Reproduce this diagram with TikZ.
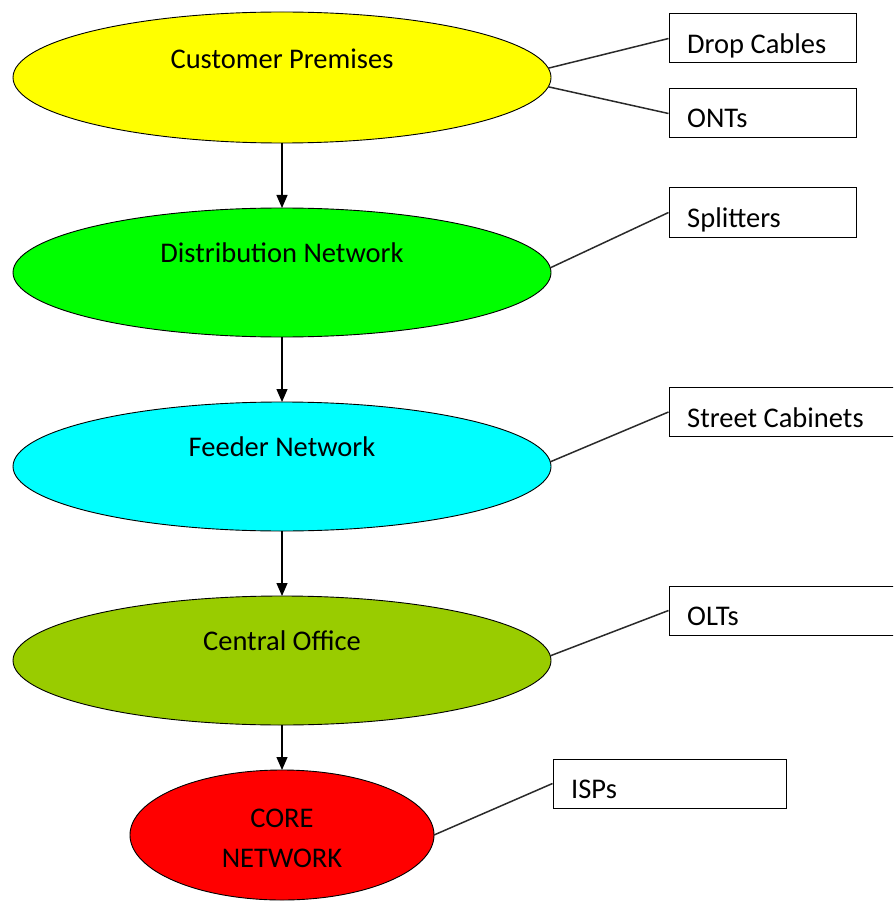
\documentclass[tikz,border=0pt]{standalone}
\usepackage{fontspec}
\setmainfont{Carlito}
\usetikzlibrary{arrows.meta,shapes.geometric}
\definecolor{cpyellow}{HTML}{FFFF00}
\definecolor{dngreen}{HTML}{00FF00}
\definecolor{fncyan}{HTML}{00FFFF}
\definecolor{coolive}{HTML}{99CC00}
\definecolor{cored}{HTML}{FF0000}
\definecolor{linkgray}{HTML}{2A2A2A}
\tikzset{
  ell/.style={ellipse, draw=black, line width=0.9pt, inner sep=0pt, outer sep=0pt, minimum width=538pt, minimum height=129pt},
  box/.style={rectangle, draw=black, line width=1pt, fill=white, inner sep=0pt, minimum height=49pt},
  txt/.style={font=\fontsize{28.5pt}{34pt}\selectfont, inner sep=0pt, anchor=base},
  btxt/.style={font=\fontsize{28.5pt}{34pt}\selectfont, inner sep=0pt, anchor=base west},
  flow/.style={line width=1.2pt, -{Triangle[length=13pt,width=11pt]}},
  link/.style={draw=linkgray, line width=1.5pt}
}
\begin{document}
\begin{tikzpicture}[x=1pt,y=-1pt]
\useasboundingbox (0,0) rectangle (893,901);
\clip (0,0) rectangle (893,901);
% ellipses
\node[ell, fill=cpyellow, minimum height=131pt] (cp) at (282,77.5) {};
\node[ell, fill=dngreen] (dn) at (282,272.5) {};
\node[ell, fill=fncyan] (fn) at (282,466.5) {};
\node[ell, fill=coolive] (co) at (282,660.5) {};
\node[ell, fill=cored, minimum width=304pt, minimum height=130pt] (cn) at (282,835) {};
% ellipse texts
\node[txt] (cpt) at (282,69) {Customer Premises};
\node[txt] (dnt) at (282,262) {Distribution Network};
\node[txt] (fnt) at (282,456) {Feeder Network};
\node[txt] (cot) at (282,650) {Central Office};
\node[txt] (cnt1) at (282,827) {CORE};
\node[txt] (cnt2) at (282,867) {NETWORK};
% arrows
\draw[flow] (cp.south) -- (dn.north);
\draw[flow] (dn.south) -- (fn.north);
\draw[flow] (fn.south) -- (co.north);
\draw[flow] (co.south) -- (cn.north);
% boxes
\node[box, minimum width=187pt] (dc) at (762.5,38.5) {};
\node[box, minimum width=187pt] (ont) at (762.5,113.5) {};
\node[box, minimum width=187pt] (sp) at (762.5,212.5) {};
\node[box, minimum width=240pt] (sc) at (789,412) {};
\node[box, minimum width=240pt] (olt) at (789,610.5) {};
\node[box, minimum width=233pt] (isp) at (669.5,783.5) {};
% box texts
\node[btxt] (dct) at (687,54) {Drop Cables};
\node[btxt] (ontt) at (687,128) {ONTs};
\node[btxt] (spt) at (687,227) {Splitters};
\node[btxt] (sct) at (687,427) {Street Cabinets};
\node[btxt] (oltt) at (687,625) {OLTs};
\node[btxt] (ispt) at (571,798) {ISPs};
% links
\draw[link] (cp.2.5) -- (dc.west);
\draw[link] (cp.-2.5) -- (ont.west);
\draw[link] (dn.1) -- (sp.west);
\draw[link] (fn.1) -- (sc.west);
\draw[link] (co.1) -- (olt.west);
\draw[link] (cn.east) -- (isp.west);
\end{tikzpicture}
\end{document}
